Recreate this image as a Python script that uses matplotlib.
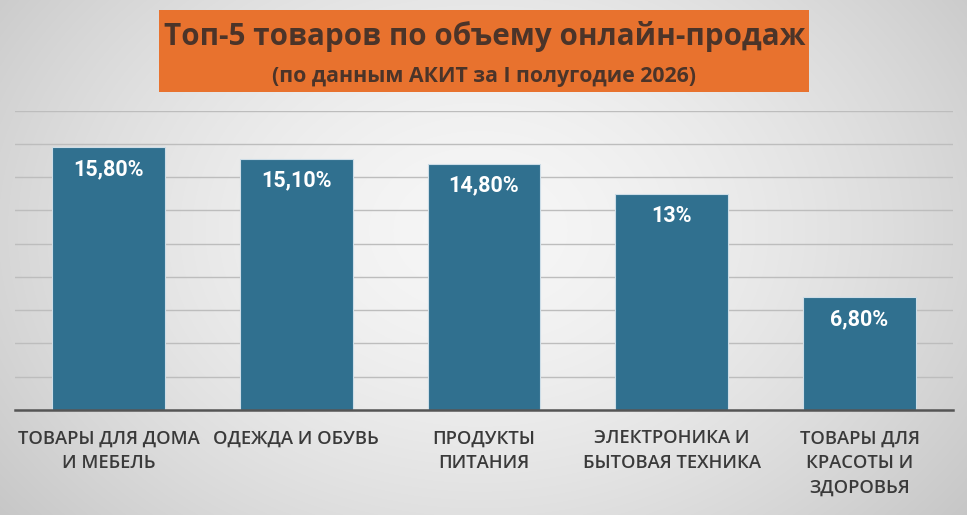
import numpy as np
import matplotlib
matplotlib.use("Agg")
import matplotlib.pyplot as plt
from matplotlib.patches import Rectangle

# data
categories = [
    "ТОВАРЫ ДЛЯ ДОМА\nИ МЕБЕЛЬ",
    "ОДЕЖДА И ОБУВЬ",
    "ПРОДУКТЫ\nПИТАНИЯ",
    "ЭЛЕКТРОНИКА И\nБЫТОВАЯ ТЕХНИКА",
    "ТОВАРЫ ДЛЯ\nКРАСОТЫ И\nЗДОРОВЬЯ",
]
shares = [15.8, 15.1, 14.8, 13.0, 6.8]
value_labels = ["15,80%", "15,10%", "14,80%", "13%", "6,80%"]
title_line1 = "Топ-5 товаров по объему онлайн-продаж"
title_line2 = "(по данным АКИТ за I полугодие 2026)"

W, H = 967, 515
fig = plt.figure(figsize=(W / 100, H / 100), dpi=100)

# soft radial grey background
bg = fig.add_axes([0, 0, 1, 1], zorder=-10)
yy, xx = np.mgrid[0:H, 0:W]
r = np.sqrt(((xx - 480) / 560.0) ** 2 + ((yy - 230) / 420.0) ** 2)
shade = np.clip(0.965 - 0.16 * r ** 1.6, 0.78, 0.97)
bg.imshow(np.dstack([shade] * 3), aspect="auto", extent=[0, 1, 0, 1])
bg.set_axis_off()

# title box
fig.add_artist(Rectangle((159 / W, 1 - 92 / H), 650 / W, 82 / H,
                         transform=fig.transFigure, facecolor="#E8722E",
                         edgecolor="none", zorder=2))
fig.text(485 / W, 1 - 37 / H, title_line1, ha="center", va="center",
         fontsize=21.3, fontweight="bold", family="Open Sans",
         color="#4b3429", zorder=3)
fig.text(484 / W, 1 - 76.5 / H, title_line2, ha="center", va="center",
         fontsize=15.4, fontweight="bold", family="Open Sans",
         color="#4b3429", zorder=3)

ax = fig.add_axes([14.6 / W, 1 - 410 / H, 938.8 / W, 299.4 / H])
ax.patch.set_alpha(0)
x = np.arange(len(categories))
bars = ax.bar(x, shares, width=0.6, color="#30708F",
              edgecolor="#cddde7", linewidth=0.8, zorder=3)

for rect, lab in zip(bars, value_labels):
    ax.annotate(lab, (rect.get_x() + rect.get_width() / 2, rect.get_height()),
                xytext=(0, -22), textcoords="offset pixels",
                ha="center", va="center", color="white",
                fontsize=15.5, fontweight="bold", family="Roboto", zorder=4)

ax.set_xlim(-0.5, len(categories) - 0.5)
ax.set_ylim(0, 18)
ax.set_yticks(np.arange(0, 19, 2))
ax.yaxis.grid(True, color="#bdbdbd", linewidth=1, zorder=0)
ax.tick_params(axis="y", left=False, labelleft=False)
ax.set_xticks(x)
ax.set_xticklabels(categories, fontsize=13.2, family="Open Sans",
                   fontweight=600, color="#3a3a3a", linespacing=1.47)
ax.tick_params(axis="x", length=0, pad=14)
for side in ["top", "right", "left"]:
    ax.spines[side].set_visible(False)
ax.spines["bottom"].set_color("#555555")
ax.spines["bottom"].set_linewidth(1.8)
ax.spines["bottom"].set_zorder(5)

fig.savefig("out.png", dpi=100)
